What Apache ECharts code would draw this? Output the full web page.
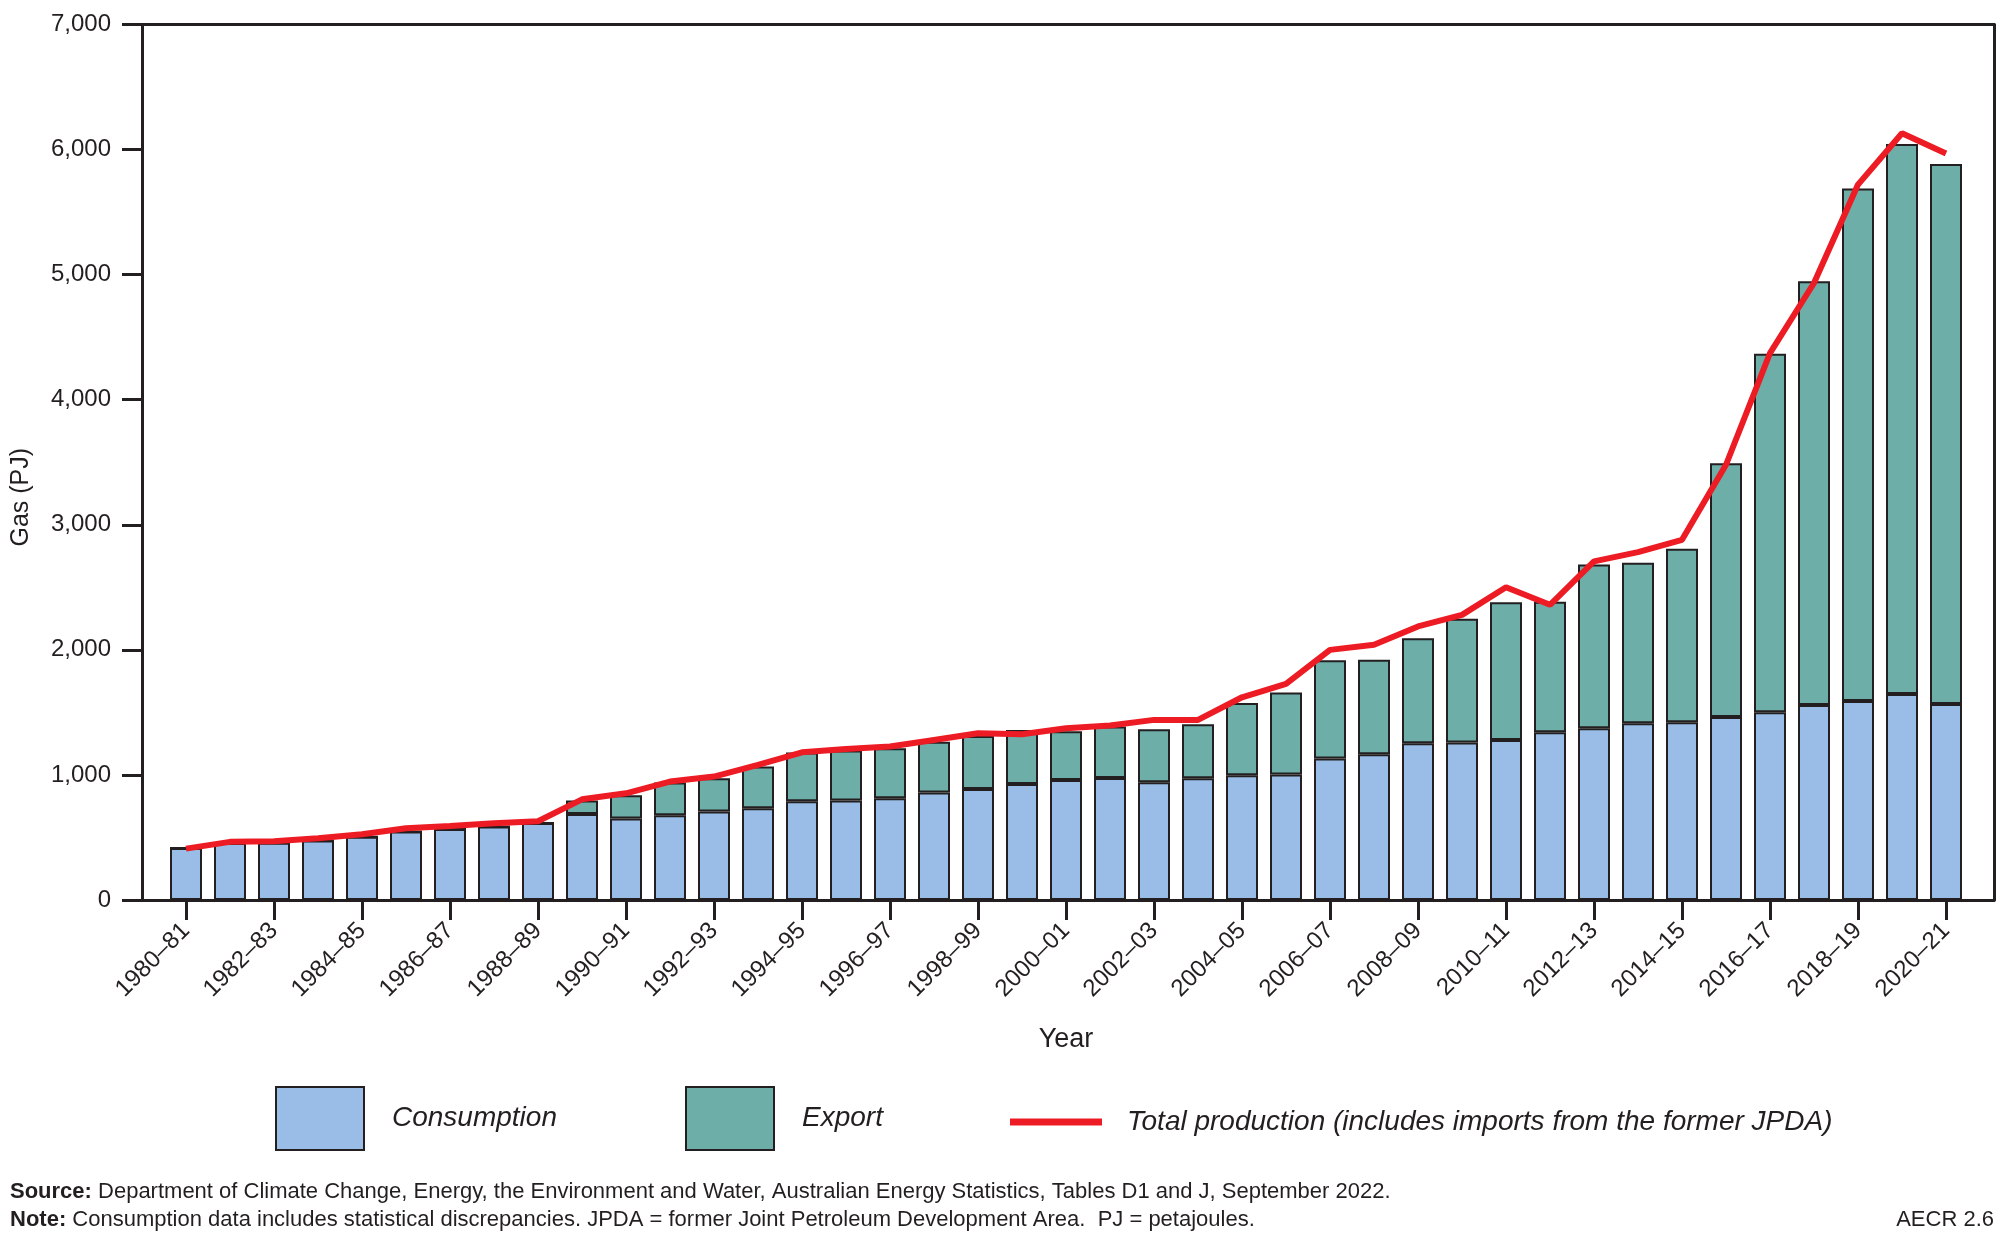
<!DOCTYPE html>
<html><head><meta charset="utf-8">
<script src="https://cdn.jsdelivr.net/npm/echarts@6/dist/echarts.min.js"></script>
<style>html,body{margin:0;padding:0;background:#fff}#c{width:2000px;height:1241px}</style>
</head><body><div id="c"></div>
<script>
const categories = ['1980–81','1981–82','1982–83','1983–84','1984–85','1985–86','1986–87','1987–88','1988–89','1989–90',
  '1990–91','1991–92','1992–93','1993–94','1994–95','1995–96','1996–97','1997–98','1998–99','1999–00',
  '2000–01','2001–02','2002–03','2003–04','2004–05','2005–06','2006–07','2007–08','2008–09','2009–10',
  '2010–11','2011–12','2012–13','2013–14','2014–15','2015–16','2016–17','2017–18','2018–19','2019–20','2020–21'];
const consumption = [416,455,458,475,505,548,568,588,615,688,
  651,677,707,733,789,795,813,859,888,928,
  960,976,941,973,997,1003,1132,1165,1253,1259,
  1280,1341,1373,1413,1421,1464,1501,1560,1592,1648,1568];
const exportGas = [0,0,0,0,0,0,0,0,0,107,
  186,262,266,334,390,400,400,406,424,432,
  390,411,424,432,579,656,785,755,840,989,
  1101,1043,1310,1283,1387,2029,2867,3387,4096,4397,4317];
const production = [411,465,470,493,525,573,592,613,630,805,
  853,947,987,1080,1181,1208,1227,1280,1333,1325,
  1373,1395,1440,1440,1621,1728,2000,2040,2187,2280,
  2501,2360,2707,2781,2880,3480,4373,4933,5720,6130,5968];
const yMin = 0, yMax = 7000, yStep = 1000;

const INK = '#231f20';
const FONT = '"Liberation Sans", Arial, Helvetica, sans-serif';
const chart = echarts.init(document.getElementById('c'), null, {renderer: 'canvas'});
const frameAxis = {axisLine:{show:true,onZero:false,lineStyle:{color:INK,width:3}},axisTick:{show:false},axisLabel:{show:false},splitLine:{show:false}};
const legendText = (pad, top) => ({fontStyle:'italic',fontSize:28,color:INK,fontFamily:FONT,padding:[top,0,0,pad]});
chart.setOption({
  animation:false,
  backgroundColor:'#ffffff',
  textStyle:{fontFamily:FONT,color:INK},
  grid:[
    {left:142,right:6,top:24.5,bottom:341},
    {left:164,right:32,top:24.5,bottom:341}
  ],
  xAxis:[
    Object.assign({gridIndex:0,type:'value',min:0,max:1,position:'bottom'},frameAxis),
    Object.assign({gridIndex:0,type:'value',min:0,max:1,position:'top'},frameAxis),
    {gridIndex:1,type:'category',data:categories,boundaryGap:true,
     axisLine:{show:true,onZero:false,lineStyle:{color:INK,width:3}},
     axisTick:{show:true,interval:1,alignWithLabel:true,length:20,lineStyle:{color:INK,width:3}},
     axisLabel:{interval:1,rotate:45,margin:27,fontSize:24,color:INK,fontFamily:FONT},
     name:'Year',nameLocation:'middle',nameGap:126,nameTextStyle:{fontSize:27,color:INK,fontFamily:FONT}}
  ],
  yAxis:[
    {gridIndex:0,type:'value',min:yMin,max:yMax,interval:yStep,position:'left',
     axisLine:{show:true,onZero:false,lineStyle:{color:INK,width:3}},
     axisTick:{show:true,length:20,lineStyle:{color:INK,width:3}},
     axisLabel:{margin:31,fontSize:24,color:INK,fontFamily:FONT,formatter:v=>v.toLocaleString('en-US')},
     splitLine:{show:false},
     name:'Gas (PJ)',nameLocation:'middle',nameGap:108,
     nameTextStyle:{fontSize:25,color:INK,fontFamily:FONT,padding:[0,70,0,0]}},
    Object.assign({gridIndex:0,type:'value',min:yMin,max:yMax,position:'right'},frameAxis),
    {gridIndex:1,type:'value',min:yMin,max:yMax,interval:yStep,show:false}
  ],
  legend:[
    {data:['Consumption'],icon:'rect',left:270,top:1081,itemWidth:88,itemHeight:63,selectedMode:false,textStyle:legendText(23,6)},
    {data:['Export'],icon:'rect',left:680,top:1081,itemWidth:88,itemHeight:63,selectedMode:false,textStyle:legendText(23,6)},
    {data:['Total production (includes imports from the former JPDA)'],icon:'rect',left:1005,top:1103,itemWidth:92,itemHeight:7,selectedMode:false,
     itemStyle:{color:'#ed1c24',borderWidth:0},textStyle:legendText(20,0)}
  ],
  series:[
    {name:'Consumption',type:'bar',xAxisIndex:2,yAxisIndex:2,stack:'gas',data:consumption,barWidth:32,
     itemStyle:{color:'#99bde6',borderColor:INK,borderWidth:2}},
    {name:'Export',type:'bar',xAxisIndex:2,yAxisIndex:2,stack:'gas',data:exportGas,barWidth:32,
     itemStyle:{color:'#6daea8',borderColor:INK,borderWidth:2}},
    {name:'Total production (includes imports from the former JPDA)',type:'line',xAxisIndex:2,yAxisIndex:2,
     data:production,symbol:'none',z:5,lineStyle:{color:'#ed1c24',width:6},itemStyle:{color:'#ed1c24'}}
  ],
  graphic:[
    {type:'text',left:10,top:1181,style:{text:'{b|Source:} Department of Climate Change, Energy, the Environment and Water, Australian Energy Statistics, Tables D1 and J, September 2022.',
      fontSize:22,fontFamily:FONT,fill:INK,rich:{b:{fontWeight:'bold',fontSize:22,fontFamily:FONT,fill:INK}}}},
    {type:'text',left:10,top:1209,style:{text:'{b|Note:} Consumption data includes statistical discrepancies. JPDA = former Joint Petroleum Development Area.  PJ = petajoules.',
      fontSize:22,fontFamily:FONT,fill:INK,rich:{b:{fontWeight:'bold',fontSize:22,fontFamily:FONT,fill:INK}}}},
    {type:'text',right:6,top:1209,style:{text:'AECR 2.6',fontSize:22,fontFamily:FONT,fill:INK}}
  ]
});
</script></body></html>
